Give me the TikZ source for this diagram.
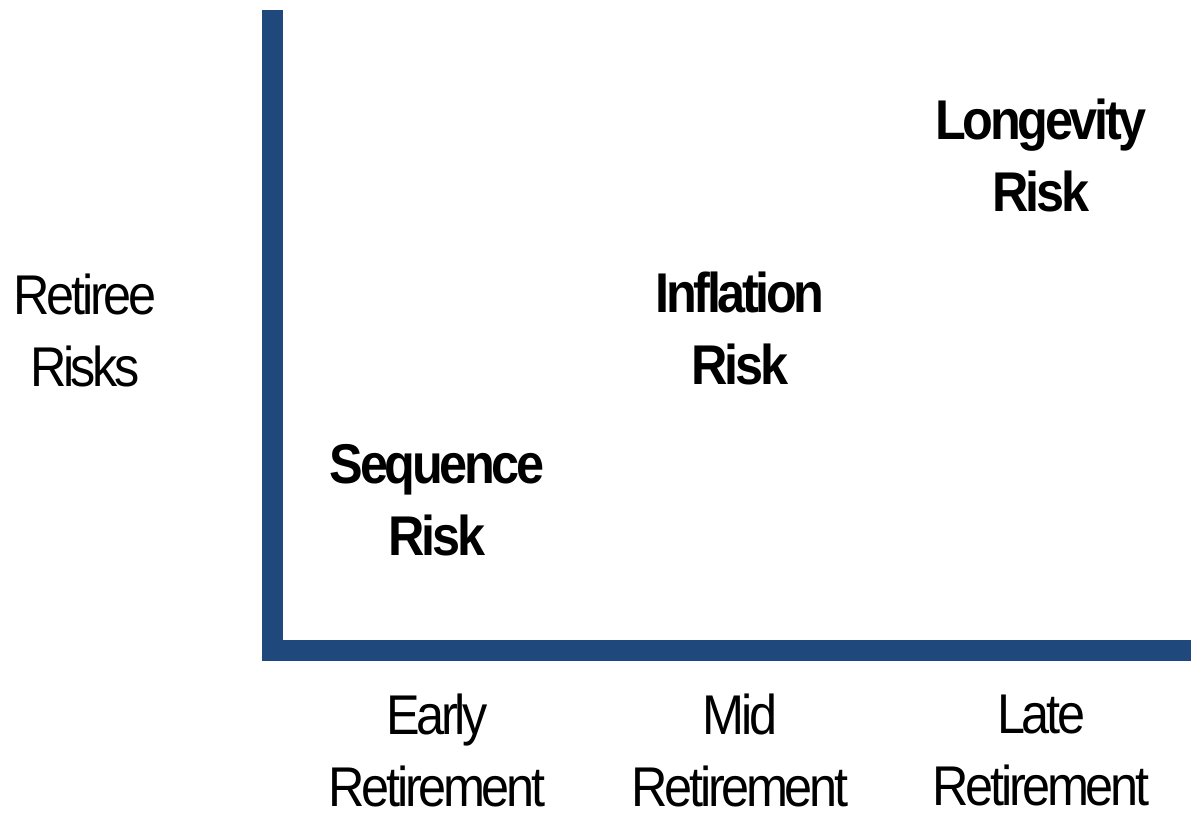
\documentclass[tikz,border=0pt]{standalone}
\usepackage{fontspec}
\setmainfont{Liberation Sans}[FakeStretch=0.9, LetterSpace=-6]
\usepackage{xcolor}
\usepackage{tikz}
\usetikzlibrary{positioning}
\definecolor{AxisBlue}{HTML}{1F497D}
\newcommand{\chartfont}{\fontsize{56}{72}\selectfont}
\tikzset{
  axisbar/.style={fill=AxisBlue, draw=none},
  stagelabel/.style={align=center, font=\chartfont, text=black, inner sep=0pt},
  risklabel/.style={align=center, font=\chartfont\bfseries, text=black, inner sep=0pt}
}

\begin{document}
\begin{tikzpicture}[x=1pt, y=-1pt]
\useasboundingbox (0,0) rectangle (1191,817);
% axes
\fill[axisbar] (262,10) rectangle (283,661);
\fill[axisbar] (262,640) rectangle (1191,661);
% axis titles
\node[stagelabel] (risks) at (85,330) {Retiree\\Risks};
\node[stagelabel] (early) at (437,750) {Early\\Retirement};
\node[stagelabel] (mid) at (740,750) {Mid\\Retirement};
\node[stagelabel] (late) at (1041,750) {Late\\Retirement};
% risks by stage
\node[risklabel] (sequence) at (437,500) {Sequence\\Risk};
\node[risklabel] (inflation) at (740,328) {Inflation\\Risk};
\node[risklabel] (longevity) at (1041,155) {Longevity\\Risk};
\end{tikzpicture}
\end{document}
